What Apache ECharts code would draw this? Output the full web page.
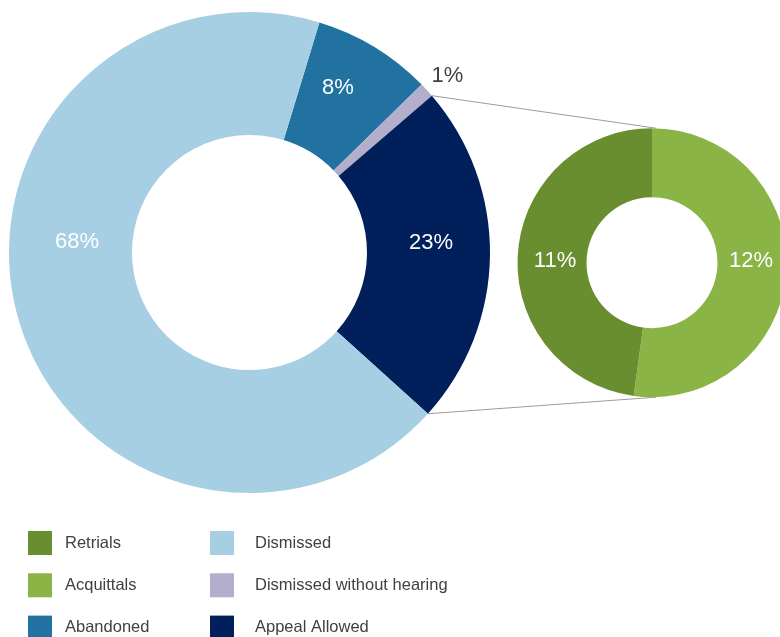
<!DOCTYPE html>
<html>
<head>
<meta charset="utf-8">
<script src="https://cdn.jsdelivr.net/npm/echarts@6/dist/echarts.min.js"></script>
<style>
  html, body { margin: 0; padding: 0; background: #ffffff; }
  #chart { width: 780px; height: 637px; }
</style>
</head>
<body>
<div id="chart"></div>
<script>
// Outcome shares (%) for the main ring, drawn clockwise
const mainNames = ['Abandoned', 'Dismissed without hearing', 'Appeal Allowed', 'Dismissed'];
const mainValues = [8, 1, 23, 68];

// Breakdown of "Appeal Allowed" shown in the side ring, drawn clockwise from the top
const subNames = ['Acquittals', 'Retrials'];
const subValues = [12, 11];

// Legend columns
const legendColumn1 = ['Retrials', 'Acquittals', 'Abandoned'];
const legendColumn2 = ['Dismissed', 'Dismissed without hearing', 'Appeal Allowed'];

const colors = {
  'Dismissed': '#a6cfe3',
  'Abandoned': '#2171a1',
  'Dismissed without hearing': '#b3aecb',
  'Appeal Allowed': '#001f5b',
  'Retrials': '#688e30',
  'Acquittals': '#8bb446'
};

const FONT = '"Liberation Sans", Arial, sans-serif';

// Ring geometry (pixels); angles measured clockwise from 12 o'clock
const MAIN = { cx: 249.5, cy: 252.5, r0: 117.5, r1: 240.5, startTop: 16.9 };
const SUB = { cx: 652, cy: 262.7, r0: 65.5, r1: 134.5 };

// Label anchor points
const labelAt = {
  'Dismissed': [77, 242],
  'Abandoned': [338, 88],
  'Dismissed without hearing': [447.5, 76],
  'Appeal Allowed': [431, 243],
  'Acquittals': [751, 261],
  'Retrials': [555, 261]
};

function polar(c, r, degFromTop) {
  const a = degFromTop * Math.PI / 180;
  return [c.cx + r * Math.sin(a), c.cy - r * Math.cos(a)];
}

// Connector lines from the "Appeal Allowed" slice edges to the side ring
const total = mainValues.reduce((s, v) => s + v, 0);
const k = mainNames.indexOf('Appeal Allowed');
const before = mainValues.slice(0, k).reduce((s, v) => s + v, 0);
const aStart = MAIN.startTop + before / total * 360;
const aEnd = aStart + mainValues[k] / total * 360;
const pTop = polar(MAIN, MAIN.r1, aStart);
const pBot = polar(MAIN, MAIN.r1, aEnd);
const qTop = [SUB.cx + 4, SUB.cy - SUB.r1];
const qBot = [SUB.cx + 4, SUB.cy + SUB.r1];

function makeData(names, values) {
  return names.map((n, i) => ({
    name: n,
    value: values[i],
    itemStyle: { color: colors[n] },
    label: { color: n === 'Dismissed without hearing' ? '#404040' : '#ffffff' }
  }));
}

function layoutFor(names) {
  return function (p) {
    const pos = labelAt[names[p.dataIndex]];
    return { x: pos[0], y: pos[1], align: 'center', verticalAlign: 'middle' };
  };
}

const labelBase = {
  show: true,
  position: 'inside',
  formatter: '{c}%',
  fontFamily: FONT,
  fontSize: 22,
  fontWeight: 'normal'
};

const legendBase = {
  orient: 'vertical',
  top: 531,
  height: 140,
  icon: 'rect',
  itemWidth: 24,
  itemHeight: 24,
  itemGap: 18.3,
  selectedMode: false,
  padding: 0
};

const chart = echarts.init(document.getElementById('chart'), null, { renderer: 'canvas' });

chart.setOption({
  backgroundColor: '#ffffff',
  animation: false,
  legend: [
    Object.assign({}, legendBase, {
      left: 28,
      data: legendColumn1,
      textStyle: { fontFamily: FONT, fontSize: 16.5, color: '#404040', padding: [0, 0, 0, 8] }
    }),
    Object.assign({}, legendBase, {
      left: 210,
      data: legendColumn2,
      textStyle: { fontFamily: FONT, fontSize: 16.5, color: '#404040', padding: [0, 0, 0, 16] }
    })
  ],
  graphic: [
    {
      type: 'line', z: 1, silent: true,
      shape: { x1: pTop[0], y1: pTop[1], x2: qTop[0], y2: qTop[1] },
      style: { stroke: '#9c9c9c', lineWidth: 1 }
    },
    {
      type: 'line', z: 1, silent: true,
      shape: { x1: pBot[0], y1: pBot[1], x2: qBot[0], y2: qBot[1] },
      style: { stroke: '#9c9c9c', lineWidth: 1 }
    }
  ],
  series: [
    {
      type: 'pie',
      name: 'Case outcomes',
      center: [MAIN.cx, MAIN.cy],
      radius: [MAIN.r0, MAIN.r1],
      startAngle: 90 - MAIN.startTop,
      clockwise: true,
      avoidLabelOverlap: false,
      itemStyle: { borderWidth: 0 },
      label: labelBase,
      labelLine: { show: false },
      labelLayout: layoutFor(mainNames),
      emphasis: { disabled: true },
      data: makeData(mainNames, mainValues)
    },
    {
      type: 'pie',
      name: 'Allowed appeal results',
      center: [SUB.cx, SUB.cy],
      radius: [SUB.r0, SUB.r1],
      startAngle: 90,
      clockwise: true,
      avoidLabelOverlap: false,
      itemStyle: { borderWidth: 0 },
      label: labelBase,
      labelLine: { show: false },
      labelLayout: layoutFor(subNames),
      emphasis: { disabled: true },
      data: makeData(subNames, subValues)
    }
  ]
});
</script>
</body>
</html>
